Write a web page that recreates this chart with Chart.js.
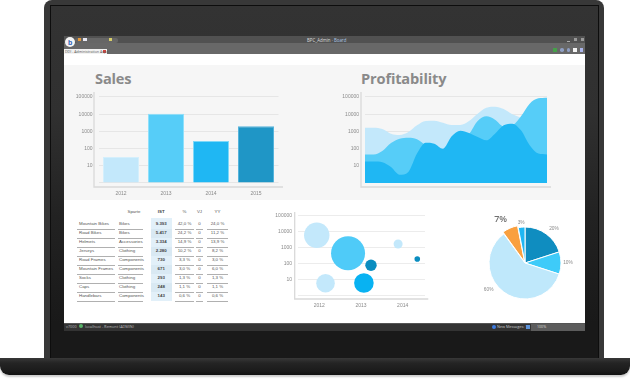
<!DOCTYPE html>
<html><head><meta charset="utf-8">
<script src="https://cdn.jsdelivr.net/npm/chart.js@4"></script>
<style>
html,body{margin:0;padding:0;background:#fff;width:630px;height:380px;overflow:hidden;font-family:"Open Sans",sans-serif}
.a{position:absolute}
canvas{position:absolute;display:block}
.t{position:absolute;white-space:nowrap;line-height:1}
.h{font-weight:700;font-size:14.6px;color:#8a8a8a;letter-spacing:-.15px}
.c{font-family:"Liberation Sans",sans-serif;font-size:4.4px;color:#555;line-height:1;text-align:left;white-space:nowrap;position:absolute}
</style></head>
<body>
<div class="a" style="left:0;top:358px;width:630px;height:17px;background:linear-gradient(#383838,#242424 30%,#1a1a1a 80%,#111);border-radius:0 0 9px 9px;box-shadow:0 2px 2px #ccc"></div>
<div class="a" style="left:44px;top:0;width:560px;height:358px;background:#383838;border-radius:8px 8px 0 0"></div>
<div class="a" style="left:50px;top:5px;width:549px;height:353px;background:linear-gradient(#333 0,#303030 30%,#222 60%,#191919 90%);border:1px solid #0d0d0d;border-bottom:0;box-sizing:border-box"></div>

<div class="a" style="left:64px;top:36px;width:521px;height:7px;background:#515151"></div>
<div class="a" style="left:64px;top:43px;width:521px;height:11px;background:#686868"></div>
<div class="a" style="left:64px;top:54px;width:521px;height:269px;background:#fff"></div>
<div class="a" style="left:64px;top:65px;width:521px;height:135px;background:#f6f6f6"></div>
<div class="a" style="left:64px;top:323px;width:521px;height:8px;background:#333;border-top:1px solid #555;box-sizing:border-box"></div>
<div class="a" style="left:531px;top:324px;width:54px;height:7px;background:#5c5c5c"></div>
<div class="a" style="left:75px;top:38px;width:43px;height:5px;background:#666;border-radius:2px"></div>
<div class="a" style="left:65px;top:37px;width:10px;height:10px;border-radius:50%;background:#f4f4f4"></div>
<div class="t" style="left:68px;top:38.5px;font:700 7px 'Liberation Sans';color:#2b5db5">b</div>
<div class="a" style="left:78px;top:38px;width:3px;height:3px;background:#e59a3c"></div>
<div class="a" style="left:83px;top:38px;width:4px;height:3px;background:#e8e8f4"></div>
<div class="a" style="left:109px;top:38px;width:3px;height:3px;background:#d8cf6a"></div>
<div class="a" style="left:64px;top:49px;width:43px;height:5px;background:#f2f2f2"></div>
<div class="a" style="left:102.5px;top:49.5px;width:3.5px;height:3.5px;background:#d9443f"></div>
<div class="t" style="left:65px;top:49.8px;font-size:3.6px;color:#555">DDI - Administration Aspe</div>
<div class="t" style="left:307px;top:37.5px;font-size:4.4px;color:#ddd">BPC_Admin · <span style="color:#a9c4e4">Board</span></div>
<div class="a" style="left:553px;top:48px;width:3.5px;height:3.5px;background:#46a04a"></div>
<div class="a" style="left:560px;top:48px;width:3.5px;height:3.5px;background:#8f9fc4;border-radius:50%"></div>
<div class="a" style="left:566.5px;top:48px;width:3.5px;height:3.5px;background:#8f9fc4;border-radius:50%"></div>
<div class="a" style="left:573px;top:48px;width:3.5px;height:3.5px;background:#f4f4f4"></div>
<div class="a" style="left:579.5px;top:48px;width:3.5px;height:3.5px;background:#aab4ea"></div>
<div class="a" style="left:567px;top:40.5px;width:3px;height:1px;background:#aaa"></div>
<div class="a" style="left:574px;top:38px;width:2.5px;height:2.5px;background:#999"></div>
<div class="a" style="left:581px;top:38px;width:2.5px;height:2.5px;background:#999"></div>
<div class="t" style="left:66px;top:324.5px;font-size:3.8px;color:#bbb">v7000</div>
<div class="a" style="left:79px;top:324px;width:4px;height:4px;border-radius:50%;background:#58b368"></div>
<div class="t" style="left:85px;top:324.5px;font-size:3.8px;color:#bbb">localhost - Remont (ADMIN)</div>
<div class="a" style="left:492px;top:324.5px;width:4px;height:4px;border-radius:50%;background:#3d7be0"></div>
<div class="t" style="left:497px;top:324.5px;font-size:3.8px;color:#ccc">New Messages: 1</div>
<div class="a" style="left:526px;top:324.5px;width:4px;height:4px;background:#5d93d8"></div>
<div class="t" style="left:537px;top:324.5px;font-size:3.6px;color:#ddd">100%</div>

<div class="t h" style="left:95px;top:71px">Sales</div>
<div class="t h" style="left:361px;top:71px">Profitability</div>

<canvas id="sales" width="222" height="112" style="left:64px;top:88px"></canvas>
<canvas id="profit" width="226" height="112" style="left:330px;top:88px"></canvas>
<div id="tbl"></div>
<canvas id="bubble" width="170" height="103" style="left:262px;top:208px"></canvas>
<canvas id="pie" width="120" height="120" style="left:465px;top:203px"></canvas>

<script>
// ---- data ----
const logTicks = [1, 10, 100, 1000, 10000, 100000];
const salesYears = ['2012', '2013', '2014', '2015'];
const salesValues = [32, 10700, 277, 1970];
const profitLabels = ['p0','p1','p2','p3','p4','p5','p6','p7','p8','p9','p10','p11','p12','p13','p14','p15','p16','p17','p18','p19','p20','p21'];
const profitLight = [1650,1650,1380,740,620,920,2250,4020,4210,3220,2360,2360,4020,10700,24000,27400,20100,9800,6300,4400,1800,1150];
const profitMedium = [46,46,73,212,378,432,346,155,79,46,87,242,675,4020,7500,4810,1970,2250,7500,40900,83600,91500];
const profitDark = [18,18,16,8.5,3,4.4,51,221,194,99,517,1100,807,472,303,738,2250,2820,1150,155,51,46];
const bubbleYears = [2012, 2013, 2014];
const bubbleX = [2011.94, 2012.69, 2013.24, 2013.89, 2014.35, 2012.15, 2013.07];
const bubbleY = [6100, 451, 79, 1730, 198, 5.9, 6.1];
const bubbleR = [12.7, 17, 5.7, 4.5, 2.8, 9.3, 9.8];
const pieValues = [20, 10, 60, 7, 3];
const tableHeader = ['', 'Sparte', 'IST', '%', 'VJ', 'YY'];
const tableNames = ['Mountain Bikes','Road Bikes','Helmets','Jerseys','Road Frames','Mountain Frames','Socks','Caps','Handlebars'];
const tableGroups = ['Bikes','Bikes','Accessories','Clothing','Components','Components','Clothing','Clothing','Components'];
const tableIst = ['9.393','5.417','3.334','2.280','730','671','293','248','143'];
const tableShare = ['42,0 %','24,2 %','14,9 %','10,2 %','3,3 %','3,0 %','1,3 %','1,1 %','0,6 %'];
const tableVj = ['0','0','0','0','0','0','0','0','0'];
const tableYy = ['24,0 %','11,2 %','13,9 %','8,2 %','3,0 %','6,0 %','1,3 %','1,1 %','0,6 %'];

// ---- styles ----
const LIGHT = '#c3e8fb', MED = '#56cdf8', BRIGHT = '#1fb7f3', DARK = '#1f96c6';
const tickFont = {family: '"Liberation Sans"', size: 5};
const tickColor = '#8a8a8a';

const lAxis = {
  id: 'lAxis',
  afterDraw(chart, args, o) {
    const {ctx, chartArea: a} = chart;
    ctx.save();
    ctx.strokeStyle = '#d9d9d9';
    ctx.lineWidth = 1.3;
    ctx.beginPath();
    ctx.moveTo(a.left - o.gap, a.top);
    ctx.lineTo(a.left - o.gap, a.bottom);
    ctx.lineTo(a.right + o.gap, a.bottom);
    ctx.stroke();
    ctx.restore();
  }
};

function logAxis(min, max, width, gridColor) {
  return {
    type: 'logarithmic', min, max,
    afterBuildTicks: s => { s.ticks = logTicks.map(v => ({value: v})); },
    afterFit: s => { s.width = width; },
    ticks: {autoSkip: false, font: tickFont, color: tickColor, padding: 0,
      callback: v => v === 1 ? '' : String(v)},
    grid: {color: gridColor, lineWidth: 1, drawTicks: true, tickLength: 6, tickColor: 'transparent'},
    border: {display: false}
  };
}
const xAxisBase = h => ({
  afterFit: s => { s.height = h; },
  grid: {display: false, drawTicks: false},
  border: {display: false},
  ticks: {font: tickFont, color: tickColor, padding: 3.5, maxRotation: 0}
});
const base = {responsive: false, animation: false, events: []};
const noLegend = {legend: {display: false}, tooltip: {enabled: false}};

new Chart(document.getElementById('sales'), {
  type: 'bar',
  data: {labels: salesYears, datasets: [{
    data: salesValues, base: 1,
    backgroundColor: [LIGHT, MED, BRIGHT, DARK],
    borderColor: ['#d4effc', '#8ee0fb', '#7fd8f8', '#55b4dc'], borderWidth: 1,
    barPercentage: 0.8, categoryPercentage: 1
  }]},
  options: {...base,
    layout: {autoPadding: false, padding: {top: 4, right: 7.5, left: 0, bottom: 0}},
    plugins: {...noLegend, lAxis: {gap: 4.5}},
    scales: {x: xAxisBase(13), y: logAxis(0.585, 195000, 34.5, '#e6e6e6')}
  },
  plugins: [lAxis]
});

const area = (data, color) => ({data, backgroundColor: color, borderColor: color, borderWidth: 0,
  pointRadius: 0, cubicInterpolationMode: 'monotone', fill: {value: 1}});
new Chart(document.getElementById('profit'), {
  type: 'line',
  data: {labels: profitLabels, datasets: [area(profitDark, BRIGHT), area(profitMedium, MED), area(profitLight, LIGHT)]},
  options: {...base,
    layout: {autoPadding: false, padding: {top: 4, right: 9, left: 0, bottom: 0}},
    plugins: {...noLegend, lAxis: {gap: 4}},
    scales: {
      x: {...xAxisBase(13), offset: false, ticks: {display: false}},
      y: logAxis(0.585, 195000, 35, '#e6e6e6')
    }
  },
  plugins: [lAxis]
});

new Chart(document.getElementById('bubble'), {
  type: 'bubble',
  data: {datasets: [{
    data: bubbleX.map((x, i) => ({x, y: bubbleY[i], r: bubbleR[i]})),
    backgroundColor: [LIGHT, '#4fcbf8', '#0a8dc0', LIGHT, '#0a8dc0', LIGHT, '#08b2f2'],
    borderWidth: 0
  }]},
  options: {...base,
    layout: {autoPadding: false, padding: {top: 4, right: 7, left: 0, bottom: 0}},
    plugins: {...noLegend, lAxis: {gap: 3.3}},
    scales: {
      x: {...xAxisBase(12), type: 'linear', min: 2011.49, max: 2014.535,
        afterBuildTicks: s => { s.ticks = bubbleYears.map(v => ({value: v})); },
        ticks: {...xAxisBase(12).ticks, callback: v => String(v)}},
      y: logAxis(0.603, 178000, 36, '#ececec')
    }
  },
  plugins: [lAxis]
});

const labelGap = [9, 7, 9, 13.6, 5];
const labelTurn = [4, 0, 18, -6, 0];
const pieLabels = {
  id: 'pieLabels',
  afterDatasetsDraw(chart) {
    const {ctx} = chart;
    const arcs = chart.getDatasetMeta(0).data;
    ctx.save();
    ctx.textAlign = 'center';
    ctx.textBaseline = 'middle';
    arcs.forEach((arc, i) => {
      const p = arc.getProps(['startAngle', 'endAngle', 'outerRadius', 'x', 'y']);
      const mid = (p.startAngle + p.endAngle) / 2 + labelTurn[i] * Math.PI / 180;
      const big = i === 3;
      const d = p.outerRadius + labelGap[i];
      ctx.font = big ? '600 9px "Open Sans"' : '4.8px "Liberation Sans"';
      ctx.fillStyle = big ? '#707070' : '#8a8a8a';
      ctx.fillText(pieValues[i] + '%', p.x + Math.cos(mid) * d, p.y + Math.sin(mid) * d);
    });
    ctx.restore();
  }
};
new Chart(document.getElementById('pie'), {
  type: 'pie',
  data: {labels: pieValues.map(v => v + '%'), datasets: [{
    data: pieValues,
    backgroundColor: ['#0f8dc0', '#3ecbf9', '#bfe8fb', '#f9a03f', '#1fb7f3'],
    borderColor: '#fff', borderWidth: 1,
    offset: [0, 0, 0, 5, 0]
  }]},
  options: {...base, radius: 36, layout: {autoPadding: false}, plugins: noLegend},
  plugins: [pieLabels]
});

// ---- table ----
const tbl = document.getElementById('tbl');
const cols = [[77, 38, 'left', 2], [118, 25, 'left', 1], [151, 20.5, 'center', 0], [175, 19, 'center', 0], [196, 7, 'center', 0], [207, 21, 'center', 0]];
const headCols = [cols[0], [127.5, 12, 'center', 0], cols[2], cols[3], cols[4], cols[5]];
const add = (x, y, w, h, bg) => { const d = document.createElement('div'); d.className = 'a';
  d.style.cssText = `left:${x}px;top:${y}px;width:${w}px;height:${h}px;background:${bg}`; tbl.appendChild(d); };
const txt = (s, col, y, bold) => { const d = document.createElement('div'); d.className = 'c';
  d.textContent = s;
  d.style.cssText = `left:${col[0] + col[3]}px;width:${col[1] - col[3]}px;top:${y}px;text-align:${col[2]};${bold ? 'font-weight:700;color:#444' : ''}`;
  tbl.appendChild(d); };
const rows = tableNames.map((n, i) => [n, tableGroups[i], tableIst[i], tableShare[i], tableVj[i], tableYy[i]]);
add(151, 218, 20.5, 83, '#e2f0f9');
tableHeader.forEach((h, c) => txt(h, headCols[c], 209.8, c === 2));
rows.forEach((r, i) => {
  const y = 224.3 + i * 9;
  if (i % 2) add(151, y - 4.5, 20.5, 9, '#d9e9f3');
  r.forEach((s, c) => {
    txt(s, cols[c], y - 2.2, c === 2);
    if (c !== 2) add(cols[c][0], y + 4.4, cols[c][1], 0.7, '#b0b0b0');
  });
});
</script>
</body></html>
